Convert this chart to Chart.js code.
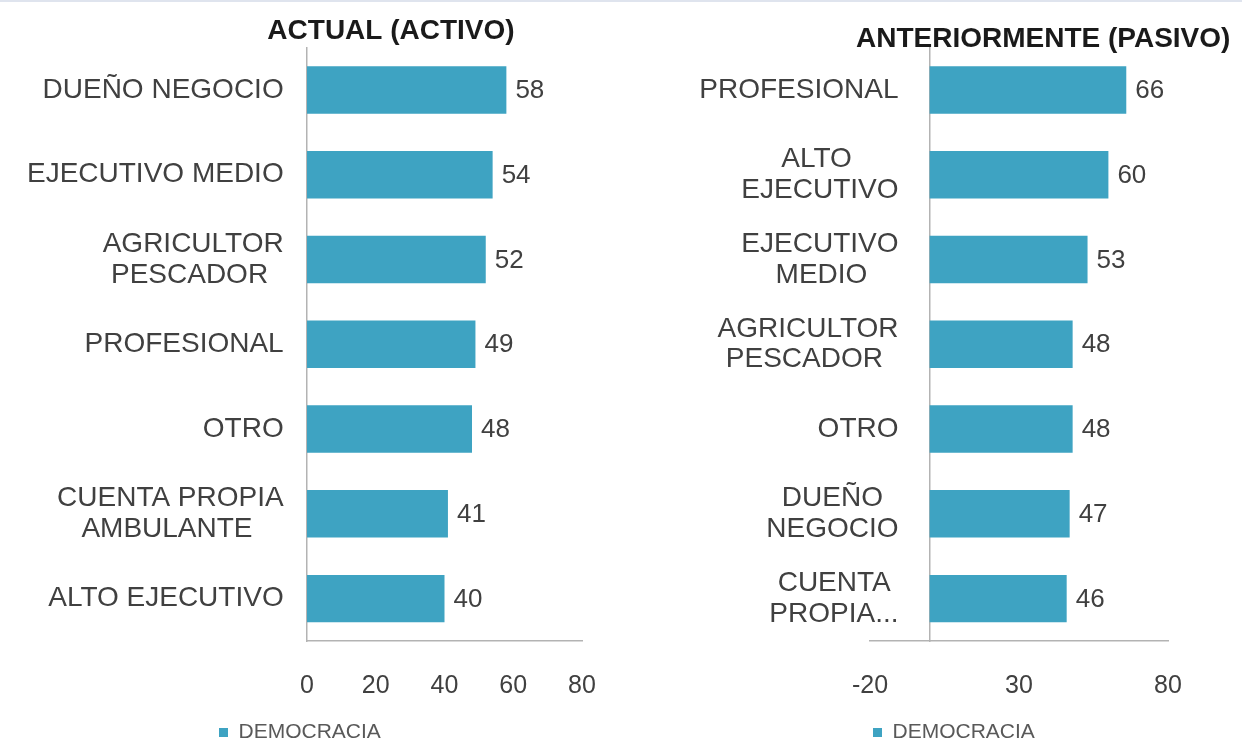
<!DOCTYPE html>
<html>

<head>
    <meta charset="utf-8">
    <title>Democracia por ocupacion</title>
    <script src="https://cdn.jsdelivr.net/npm/chart.js"></script>
    <style>
        html, body {
            margin: 0;
            padding: 0;
            background: #fff;
            overflow: hidden;
            width: 1242px;
            height: 742px;
        }

        #topLine {
            position: absolute;
            left: 0;
            top: 0;
            width: 1242px;
            height: 2px;
            background: #dfe4ee;
        }

        canvas {
            position: absolute;
            top: 0;
        }

        #leftChart { left: 0; }
        #rightChart { left: 630px; }
    </style>
</head>

<body>
    <div id="topLine"></div>
    <canvas id="leftChart" width="630" height="760"></canvas>
    <canvas id="rightChart" width="612" height="760"></canvas>

    <script>
        // ACTUAL (ACTIVO)
        const activoLabels = ['DUEÑO NEGOCIO', 'EJECUTIVO MEDIO', ['AGRICULTOR', 'PESCADOR'], 'PROFESIONAL',
            'OTRO', ['CUENTA PROPIA', 'AMBULANTE'], 'ALTO EJECUTIVO'];
        const activoValues = [58, 54, 52, 49, 48, 41, 40];

        // ANTERIORMENTE (PASIVO)
        const pasivoLabels = ['PROFESIONAL', ['ALTO', 'EJECUTIVO'], ['EJECUTIVO', 'MEDIO'], ['AGRICULTOR', 'PESCADOR'],
            'OTRO', ['DUEÑO', 'NEGOCIO'], ['CUENTA', 'PROPIA...']];
        const pasivoValues = [66, 60, 53, 48, 48, 47, 46];

        const seriesName = 'DEMOCRACIA';
        const FONT = '"Liberation Sans", Arial, sans-serif';
        const LABEL_SIZE = 28;
        const BAR = '#3ea3c2';
        const TEXT = '#404040';

        // numbers at the end of each bar
        const valueLabels = {
            id: 'valueLabels',
            afterDatasetsDraw(chart) {
                const ctx = chart.ctx;
                const meta = chart.getDatasetMeta(0);
                const data = chart.data.datasets[0].data;
                ctx.save();
                ctx.font = '26px ' + FONT;
                ctx.fillStyle = TEXT;
                ctx.textBaseline = 'middle';
                meta.data.forEach((bar, i) => ctx.fillText(data[i], bar.x + 9, bar.y + 1));
                ctx.restore();
            }
        };

        // the axis sits at value 0, where Chart.js ignores tick padding:
        // pad with trailing spaces, and centre the lines of two-line labels
        const measureCtx = document.createElement('canvas').getContext('2d');
        measureCtx.font = LABEL_SIZE + 'px ' + FONT;
        const spaceW = measureCtx.measureText(' ').width;

        function tickText(label, trail) {
            const tail = ' '.repeat(trail);
            if (!Array.isArray(label)) return label + tail;
            const widths = label.map(s => measureCtx.measureText(s).width);
            const maxW = Math.max(...widths);
            return label.map((s, i) => s + ' '.repeat(Math.round((maxW - widths[i]) / 2 / spaceW)) + tail);
        }

        function makeChart(id, labels, values, o) {
            return new Chart(document.getElementById(id), {
                type: 'bar',
                data: {
                    labels: labels,
                    datasets: [{
                        label: seriesName,
                        data: values,
                        backgroundColor: BAR,
                        xAxisID: 'x',
                        yAxisID: 'y',
                        categoryPercentage: 0.8,
                        barPercentage: 0.7
                    }]
                },
                plugins: [valueLabels],
                options: {
                    indexAxis: 'y',
                    responsive: false,
                    animation: false,
                    layout: {
                        padding: { left: o.padL, right: o.padR, top: 0, bottom: 7 }
                    },
                    plugins: {
                        title: {
                            display: true,
                            text: o.title,
                            align: o.titleAlign,
                            color: '#1a1a1a',
                            font: { family: FONT, size: 28, weight: 'bold', lineHeight: 1.2 },
                            padding: o.titlePad
                        },
                        legend: {
                            position: 'bottom',
                            align: 'start',
                            labels: {
                                boxWidth: 9,
                                boxHeight: 9,
                                padding: o.legendPad,
                                color: '#595959',
                                font: { family: FONT, size: 21 }
                            }
                        },
                        tooltip: { enabled: false }
                    },
                    scales: {
                        x: {
                            min: o.min,
                            max: o.max,
                            grid: { display: false, drawTicks: false },
                            border: { color: '#b3b3b3', width: 1.5 },
                            ticks: {
                                stepSize: o.step,
                                padding: 30,
                                color: TEXT,
                                font: { family: FONT, size: 25 }
                            },
                            afterFit: s => { s.height -= o.xCut; }
                        },
                        y: {
                            position: { x: 0 },
                            grid: { display: false, drawTicks: false },
                            border: { color: '#b3b3b3', width: 1.5 },
                            ticks: {
                                autoSkip: false,
                                padding: 0,
                                color: TEXT,
                                font: { family: FONT, size: LABEL_SIZE, lineHeight: 1.1 },
                                callback: function (v) { return tickText(this.getLabelForValue(v), o.trail); }
                            }
                        },
                        // empty strips that place the plot area inside the title/legend box
                        gapL: {
                            type: 'linear',
                            axis: 'y',
                            position: 'left',
                            grid: { display: false, drawTicks: false },
                            border: { display: false },
                            ticks: { display: false },
                            afterFit: s => { s.width = o.gapL; }
                        },
                        gapR: {
                            type: 'linear',
                            axis: 'y',
                            position: 'right',
                            grid: { display: false, drawTicks: false },
                            border: { display: false },
                            ticks: { display: false },
                            afterFit: s => { s.width = o.gapR; }
                        }
                    }
                }
            });
        }

        makeChart('leftChart', activoLabels, activoValues, {
            title: 'ACTUAL (ACTIVO)',
            titleAlign: 'center',
            titlePad: { top: 14, bottom: 0 },
            min: 0, max: 80, step: 20,
            padL: 200, padR: 48, gapL: 107, gapR: 0,
            trail: 3, legendPad: 19, xCut: 28
        });

        makeChart('rightChart', pasivoLabels, pasivoValues, {
            title: 'ANTERIORMENTE (PASIVO)',
            titleAlign: 'start',
            titlePad: { top: 22, bottom: -8 },
            min: -20, max: 80, step: 50,
            padL: 226, padR: 6, gapL: 14, gapR: 68,
            trail: 4, legendPad: 17, xCut: 26
        });
    </script>
</body>

</html>
